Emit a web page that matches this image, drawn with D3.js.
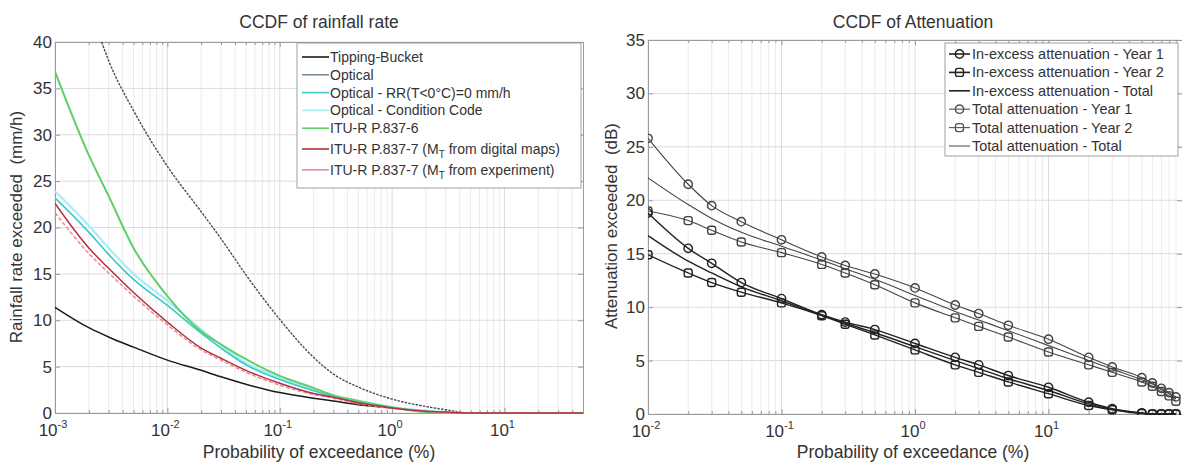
<!DOCTYPE html>
<html><head><meta charset="utf-8">
<script src="https://cdn.jsdelivr.net/npm/d3@7"></script>
<style>body{margin:0;background:#fff} svg{display:block} text{font-family:"Liberation Sans",Arial,sans-serif}</style>
</head><body><svg id="c" width="1182" height="463"></svg>
<script>
// ---------- Left panel data: CCDF of rainfall rate ----------
const pRain = [0.001,0.002,0.003,0.005,0.01,0.02,0.03,0.05,0.1,0.2,0.3,0.5,1,2,3,5,10,50];
const tippingBucket = [11.4,9.2,8.2,7.1,5.7,4.6,3.9,3.1,2.2,1.6,1.3,0.9,0.55,0.2,0.05,0,0,0];
const pOptical = [0.0026,0.003,0.005,0.01,0.02,0.03,0.05,0.1,0.2,0.3,0.5,1,2,3,5,10,50];
const optical = [40,38.0,32.6,26.6,21.7,18.8,14.9,10.1,6.0,4.2,2.8,1.5,0.7,0.35,0,0,0];
const opticalRR = [23.2,19.5,17.1,14.4,11.6,8.6,7.0,5.2,3.6,2.4,1.8,1.2,0.6,0.2,0.05,0,0,0];
const opticalCC = [23.9,20.2,17.8,15.0,12.1,9.0,7.3,5.4,3.8,2.5,1.9,1.3,0.65,0.25,0.08,0,0,0];
const itu6 = [36.8,27.8,23.4,17.8,12.6,8.8,7.4,5.8,4.0,2.7,1.9,1.3,0.6,0.1,0,0,0,0];
const itu7maps = [22.6,17.8,15.6,13.0,9.8,7.0,5.9,4.6,3.2,2.1,1.7,1.1,0.55,0.2,0.1,0,0,0];
const itu7exp = [21.6,17.2,15.1,12.6,9.5,6.8,5.7,4.4,3.0,2.0,1.6,1.0,0.5,0.18,0.08,0,0,0];
const rainXDomain = [0.001, 50];
const rainYDomain = [0, 40];
const rainYTicks = [0,5,10,15,20,25,30,35,40];
const rainXTicks = [0.001,0.01,0.1,1,10];
const rainLegend = ["Tipping-Bucket","Optical","Optical - RR(T<0°C)=0 mm/h","Optical - Condition Code","ITU-R P.837-6","ITU-R P.837-7 (M|T| from digital maps)","ITU-R P.837-7 (M|T| from experiment)"];

// ---------- Right panel data: CCDF of attenuation ----------
const pAtt = [0.01,0.02,0.03,0.05,0.1,0.2,0.3,0.5,1,2,3,5,10,20,30,50,60,70,80,90];
const inexY1 = [18.8,15.5,14.1,12.3,10.8,9.3,8.6,7.9,6.6,5.3,4.6,3.6,2.5,1.1,0.5,0.1,0,0,0,0];
const inexY2 = [14.9,13.2,12.3,11.4,10.4,9.2,8.4,7.4,6.0,4.6,3.9,3.0,1.9,0.8,0.4,0.05,0,0,0,0];
const inexTot = [16.7,14.3,13.2,11.9,10.6,9.25,8.5,7.6,6.3,5.0,4.25,3.3,2.2,0.95,0.45,0.07,0,0,0,0];
const totY1 = [25.8,21.5,19.5,18.0,16.3,14.7,13.9,13.1,11.8,10.2,9.4,8.3,7.0,5.3,4.4,3.4,2.9,2.4,2.0,1.6];
const totY2 = [19.0,18.1,17.2,16.1,15.1,14.0,13.2,12.1,10.4,9.0,8.2,7.2,5.8,4.6,3.9,3.0,2.6,2.1,1.7,1.2];
const totTot = [22.1,19.6,18.3,17.0,15.7,14.4,13.6,12.6,11.1,9.6,8.8,7.8,6.4,5.0,4.2,3.2,2.8,2.3,1.9,1.4];
const attXDomain = [0.01, 100];
const attYDomain = [0, 35];
const attYTicks = [0,5,10,15,20,25,30,35];
const attXTicks = [0.01,0.1,1,10];
const attLegend = ["In-excess attenuation - Year 1","In-excess attenuation - Year 2","In-excess attenuation - Total","Total attenuation - Year 1","Total attenuation - Year 2","Total attenuation - Total"];

const svg = d3.select("#c");
const TXT = "#333";

function minorTicks(dom){
  const out=[]; const a=Math.floor(Math.log10(dom[0])), b=Math.ceil(Math.log10(dom[1]));
  for(let e=a;e<b;e++) for(let k=2;k<=9;k++){const v=k*Math.pow(10,e); if(v>dom[0]&&v<dom[1]) out.push(v);}
  return out;
}

function panel(cfg){
  const x = d3.scaleLog().domain(cfg.xDomain).range(cfg.xRange);
  const y = d3.scaleLinear().domain(cfg.yDomain).range(cfg.yRange);
  const g = svg.append("g");
  const [x0,x1]=cfg.xRange, [y0,y1]=cfg.yRange;
  const minors = minorTicks(cfg.xDomain);
  // grid
  g.append("g").selectAll("line").data(minors).join("line")
    .attr("x1",d=>x(d)).attr("x2",d=>x(d)).attr("y1",y0).attr("y2",y1)
    .attr("stroke","#ebebeb").attr("stroke-width",1);
  g.append("g").selectAll("line").data(cfg.xTicks).join("line")
    .attr("x1",d=>x(d)).attr("x2",d=>x(d)).attr("y1",y0).attr("y2",y1)
    .attr("stroke","#dcdcdc").attr("stroke-width",1);
  g.append("g").selectAll("line").data(cfg.yTicks).join("line")
    .attr("x1",x0).attr("x2",x1).attr("y1",d=>y(d)).attr("y2",d=>y(d))
    .attr("stroke","#dcdcdc").attr("stroke-width",1);
  // axes (ticks inside)
  const ax = g.append("g").attr("transform",`translate(${x0},0)`)
    .call(d3.axisLeft(y).tickValues(cfg.yTicks).tickSize(-5).tickPadding(8).tickFormat(d3.format("d")));
  ax.selectAll("text").attr("font-size",17).attr("fill",TXT).attr("x",-3);
  g.append("g").attr("transform",`translate(${x1},0)`)
    .call(d3.axisRight(y).tickValues(cfg.yTicks).tickSize(-5).tickFormat(""));
  g.append("g").attr("transform",`translate(0,${y0})`)
    .call(d3.axisBottom(x).tickValues(cfg.xTicks).tickSize(-5).tickFormat(""));
  g.append("g").attr("transform",`translate(0,${y0})`)
    .call(d3.axisBottom(x).tickValues(minors).tickSize(-3).tickFormat(""));
  g.append("g").attr("transform",`translate(0,${y1})`)
    .call(d3.axisTop(x).tickValues(cfg.xTicks).tickSize(-5).tickFormat(""));
  g.append("g").attr("transform",`translate(0,${y1})`)
    .call(d3.axisTop(x).tickValues(minors).tickSize(-3).tickFormat(""));
  g.selectAll(".domain").attr("stroke","#9a9a9a");
  g.selectAll(".tick line").attr("stroke","#9a9a9a");
  // x tick labels with superscripts
  const xl = g.append("g").selectAll("text").data(cfg.xTicks).join("text")
    .attr("x",d=>x(d)-2).attr("y",y0+23).attr("text-anchor","middle").attr("font-size",17).attr("fill",TXT);
  xl.append("tspan").text("10");
  xl.append("tspan").attr("dy",-8).attr("font-size",11).text(d=>String(Math.round(Math.log10(d))));
  // title and labels
  g.append("text").attr("x",cfg.titleX).attr("y",28).attr("text-anchor","middle").attr("font-size",17.5).attr("fill",TXT).text(cfg.title);
  g.append("text").attr("x",cfg.titleX).attr("y",458).attr("text-anchor","middle").attr("font-size",17.5).attr("fill",TXT).text("Probability of exceedance (%)");
  g.append("text").attr("transform",`translate(${cfg.ylabX},${cfg.ylabY}) rotate(-90)`).attr("text-anchor","middle").attr("font-size",17).attr("fill",TXT).attr("xml:space","preserve").text(cfg.ylab);
  // clip
  const cid="clip"+cfg.id;
  svg.append("clipPath").attr("id",cid).append("rect").attr("x",x0).attr("y",y1-1).attr("width",x1-x0).attr("height",y0-y1+2);
  const plot = g.append("g").attr("clip-path",`url(#${cid})`);
  const line = d3.line().x(d=>x(d[0])).y(d=>y(d[1])).curve(d3.curveMonotoneX);
  cfg.series.forEach(s=>{
    const pts = s.px.map((p,i)=>[p,s.v[i]]);
    plot.append("path").datum(pts).attr("d",line).attr("fill","none")
      .attr("stroke",s.color).attr("stroke-width",s.w).attr("stroke-dasharray",s.dash||null);
    if(s.marker){
      const m = plot.append("g").selectAll("g").data(pts).join("g")
        .attr("transform",d=>`translate(${x(d[0])},${y(d[1])})`);
      drawMarker(m,s.marker,s.color);
    }
  });
  return {x,y,g};
}

function drawMarker(sel,type,color){
  if(type==="circle") sel.append("circle").attr("r",4.2).attr("fill","none").attr("stroke",color).attr("stroke-width",1.4);
  else sel.append("rect").attr("x",-4).attr("y",-4).attr("width",8).attr("height",8).attr("rx",2.5).attr("fill","none").attr("stroke",color).attr("stroke-width",1.4);
}

function legendText(sel,label){
  const parts = label.split("|");
  sel.append("tspan").text(parts[0]);
  if(parts.length>1){
    sel.append("tspan").attr("dy",4).attr("font-size",10).text(parts[1]);
    sel.append("tspan").attr("dy",-4).text(parts[2]);
  }
}

// ---------- Left panel ----------
const leftSeries = [
  {px:pRain, v:tippingBucket, color:"#1a1a1a", w:1.5},
  {px:pOptical, v:optical, color:"#4a4d58", w:1.4, dash:"2.5,1.2"},
  {px:pRain, v:opticalCC, color:"#a8ecf8", w:2.2},
  {px:pRain, v:opticalRR, color:"#3cc8c8", w:1.6},
  {px:pRain, v:itu6, color:"#5fd06a", w:2.0},
  {px:pRain, v:itu7exp, color:"#ec8a98", w:1.5, dash:"4,2"},
  {px:pRain, v:itu7maps, color:"#b2303f", w:1.5},
];
const L = panel({id:"L", xDomain:rainXDomain, yDomain:rainYDomain, xRange:[55,583], yRange:[413,42],
  xTicks:rainXTicks, yTicks:rainYTicks, title:"CCDF of rainfall rate", titleX:319,
  ylab:"Rainfall rate exceeded  (mm/h)", ylabX:22, ylabY:227, series:leftSeries});

const leftLegendColors = ["#1a1a1a","#7a8a9a","#3cc8c8","#a8ecf8","#5fd06a","#b2303f","#ec8a98"];
{
  const lg = svg.append("g");
  lg.append("rect").attr("x",297).attr("y",43).attr("width",284).attr("height",145).attr("fill","#fff").attr("stroke","#a0a0a0");
  rainLegend.forEach((lab,i)=>{
    const yy = 57 + i*17.8 + (i>=5 ? (i-4)*3 : 0);
    lg.append("line").attr("x1",302).attr("x2",329).attr("y1",yy).attr("y2",yy).attr("stroke",leftLegendColors[i]).attr("stroke-width",1.6);
    const t = lg.append("text").attr("x",330).attr("y",yy+5).attr("font-size",14).attr("fill",TXT);
    legendText(t,lab);
  });
}

// ---------- Right panel ----------
const rightSeries = [
  {px:pAtt, v:totTot, color:"#444", w:1.1},
  {px:pAtt, v:totY1, color:"#444", w:1.1, marker:"circle"},
  {px:pAtt, v:totY2, color:"#444", w:1.1, marker:"square"},
  {px:pAtt, v:inexTot, color:"#222", w:1.4},
  {px:pAtt, v:inexY1, color:"#222", w:1.4, marker:"circle"},
  {px:pAtt, v:inexY2, color:"#222", w:1.4, marker:"square"},
];
const R = panel({id:"R", xDomain:attXDomain, yDomain:attYDomain, xRange:[648,1182], yRange:[414,40],
  xTicks:attXTicks, yTicks:attYTicks, title:"CCDF of Attenuation", titleX:913,
  ylab:"Attenuation exceeded  (dB)", ylabX:617, ylabY:226, series:rightSeries});

const rightLegendStyle = [
  {c:"#222",w:1.6,m:"circle"},{c:"#222",w:1.6,m:"square"},{c:"#222",w:1.6,m:null},
  {c:"#555",w:1.1,m:"circle"},{c:"#555",w:1.1,m:"square"},{c:"#555",w:1.1,m:null}];
{
  const lg = svg.append("g");
  lg.append("rect").attr("x",945).attr("y",43).attr("width",233).attr("height",113).attr("fill","#fff").attr("stroke","#a0a0a0");
  attLegend.forEach((lab,i)=>{
    const yy = 54 + i*18.4;
    const st = rightLegendStyle[i];
    lg.append("line").attr("x1",949).attr("x2",970).attr("y1",yy).attr("y2",yy).attr("stroke",st.c).attr("stroke-width",st.w);
    if(st.m){ const m = lg.append("g").attr("transform",`translate(959.5,${yy})`); drawMarker(m,st.m,st.c); }
    lg.append("text").attr("x",972).attr("y",yy+5).attr("font-size",14.5).attr("fill",TXT).text(lab);
  });
}
</script></body></html>
